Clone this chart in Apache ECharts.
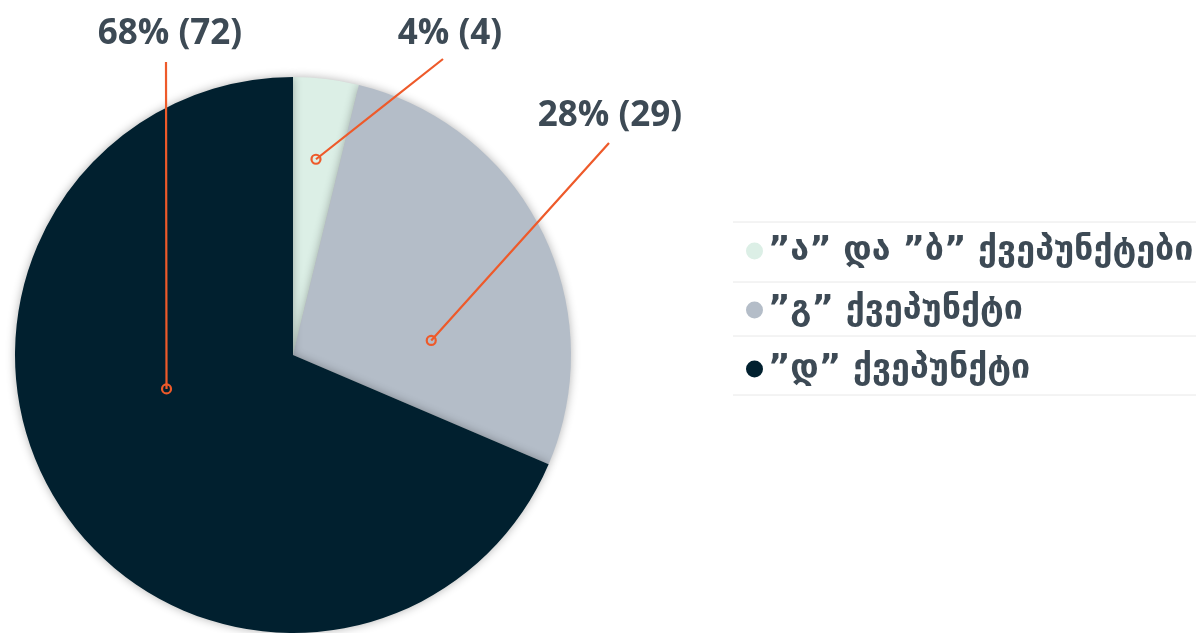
<!DOCTYPE html>
<html>
<head>
<meta charset="utf-8">
<script src="https://cdn.jsdelivr.net/npm/echarts@6/dist/echarts.min.js"></script>
<style>
html,body{margin:0;padding:0;background:#fff;}
#chart{width:1196px;height:633px;}
</style>
</head>
<body>
<div id="chart"></div>
<script>
// ---- data ----
const categories = ['”ა” და ”ბ” ქვეპუნქტები', '”გ” ქვეპუნქტი', '”დ” ქვეპუნქტი'];
const counts = [4, 29, 72];
const percents = [4, 28, 68];

// ---- styles / layout ----
const colors = ['#dcefe6', '#b4bdc8', '#01202f'];
const CX = 293, CY = 355, R = 278;
const labelColor = '#3d4a55';
const lineColor = '#ee5a2a';
// anchor (angle clockwise from top in degrees, fraction of radius), label centre, line end
const labelLayoutCfg = [
  { angle: 6.7, rf: 0.709, label: [450, 34], end: [443, 59] },
  { angle: 84, rf: 0.50, label: [610, 116], end: [609, 143] },
  { angle: 255, rf: 0.471, label: [170, 34], end: [166, 62] }
];
function anchor(i) {
  const c = labelLayoutCfg[i];
  const a = c.angle * Math.PI / 180;
  return [CX + c.rf * R * Math.sin(a), CY - c.rf * R * Math.cos(a)];
}

const chart = echarts.init(document.getElementById('chart'));
const sliceData = categories.map((name, i) => ({
  name: name, value: counts[i], pct: percents[i], itemStyle: { color: colors[i] }
}));
const labelData = categories.map((name, i) => ({
  name: name, value: counts[i], pct: percents[i]
}));

const separators = [222, 282, 336, 395].map(y => ({
  type: 'line', z: 0,
  shape: { x1: 733, y1: y, x2: 1196, y2: y },
  style: { stroke: '#e8e8e8', lineWidth: 1 }
}));
const rings = categories.map((_, i) => {
  const p = anchor(i);
  return {
    type: 'circle', z: 100,
    shape: { cx: p[0], cy: p[1], r: 4.5 },
    style: { fill: 'transparent', stroke: lineColor, lineWidth: 2.2 }
  };
});

chart.setOption({
  animation: false,
  backgroundColor: '#ffffff',
  color: colors,
  legend: {
    orient: 'vertical',
    left: 741,
    top: 229,
    itemGap: 25,
    itemWidth: 17,
    itemHeight: 17,
    icon: 'circle',
    data: categories,
    textStyle: {
      fontFamily: 'DejaVu Sans',
      fontWeight: 'bold',
      fontSize: 34,
      lineHeight: 34,
      color: labelColor
    }
  },
  graphic: separators.concat(rings),
  series: [{
    type: 'pie',
    z: 2,
    center: [CX, CY],
    radius: R,
    startAngle: 90,
    clockwise: true,
    itemStyle: {
      shadowBlur: 10,
      shadowColor: 'rgba(0,0,0,0.3)'
    },
    label: { show: false },
    labelLine: { show: false },
    emphasis: { disabled: true },
    data: sliceData
  }, {
    type: 'pie',
    z: 5,
    silent: true,
    legendHoverLink: false,
    center: [CX, CY],
    radius: R,
    startAngle: 90,
    clockwise: true,
    avoidLabelOverlap: false,
    itemStyle: { color: 'rgba(0,0,0,0)' },
    label: {
      show: true,
      position: 'outside',
      formatter: p => p.data.pct + '% (' + p.value + ')',
      fontFamily: 'Open Sans',
      fontWeight: 'bold',
      fontSize: 35,
      color: labelColor
    },
    labelLine: {
      show: true,
      lineStyle: { color: lineColor, width: 2.2 }
    },
    labelLayout: function (params) {
      const i = params.dataIndex;
      const c = labelLayoutCfg[i];
      const a = anchor(i);
      return {
        x: c.label[0],
        y: c.label[1],
        align: 'center',
        verticalAlign: 'middle',
        labelLinePoints: [a, [(a[0] + c.end[0]) / 2, (a[1] + c.end[1]) / 2], c.end]
      };
    },
    emphasis: { disabled: true },
    data: labelData
  }]
});
</script>
</body>
</html>
